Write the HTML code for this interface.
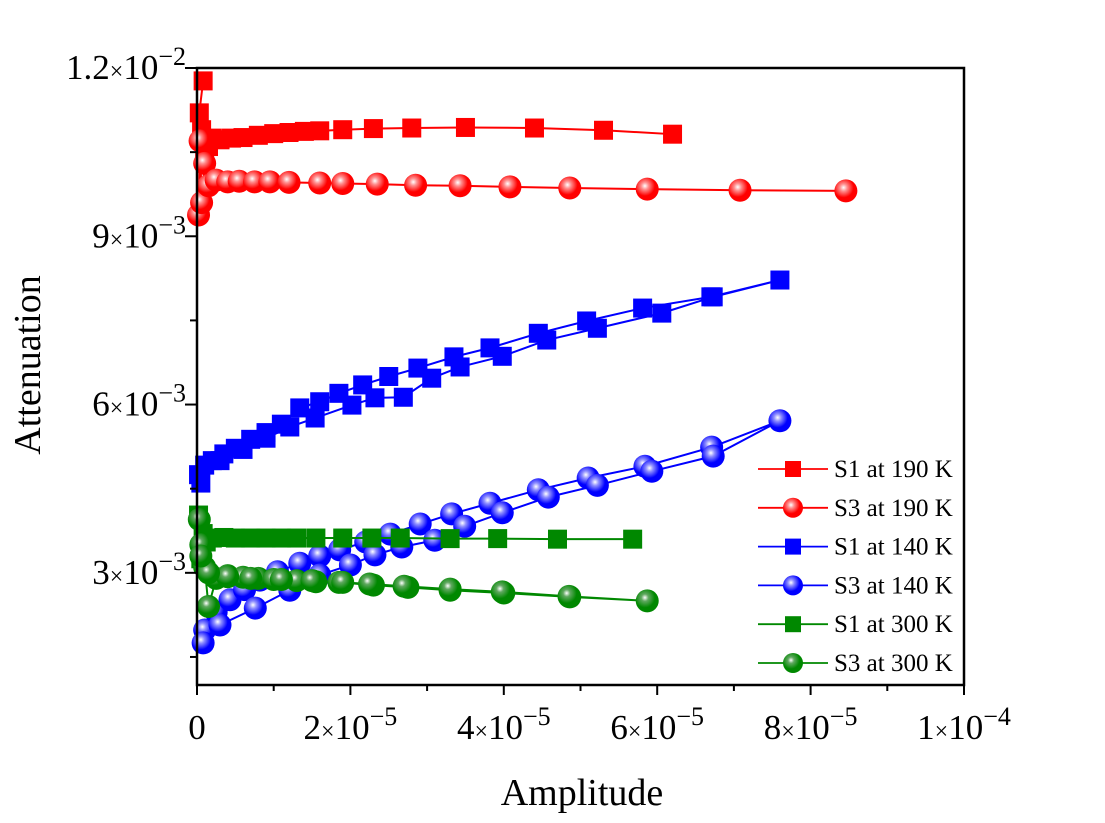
<!DOCTYPE html>
<html><head><meta charset="utf-8"><style>
html,body{margin:0;padding:0;background:#fff}
svg{display:block}
text{font-family:"Liberation Serif",serif;fill:#000}
</style></head><body>
<svg id="chart" width="1105" height="823" xmlns="http://www.w3.org/2000/svg">
<defs>
<radialGradient id="gr" cx="0.4" cy="0.36" r="0.62"><stop offset="0" stop-color="#fff"/><stop offset="0.25" stop-color="#ff9090"/><stop offset="0.7" stop-color="#f00"/></radialGradient>
<radialGradient id="gb" cx="0.4" cy="0.36" r="0.62"><stop offset="0" stop-color="#fff"/><stop offset="0.25" stop-color="#9090ff"/><stop offset="0.7" stop-color="#00f"/></radialGradient>
<radialGradient id="gg" cx="0.4" cy="0.36" r="0.62"><stop offset="0" stop-color="#fff"/><stop offset="0.25" stop-color="#60a860"/><stop offset="0.7" stop-color="#080"/></radialGradient>
</defs>
<g id="marks"></g>
<g id="axes"></g>
<g id="legend"></g>
</svg>
<script>
// amplitude in units of 1e-5, attenuation in units of 1e-3
const s1_190_x=[0.08,0.03,0.06,0.1,0.15,0.2,0.3,0.45,0.6,0.8,1.0,1.2,1.4,1.6,1.9,2.3,2.8,3.5,4.4,5.3,6.2];
const s1_190_y=[11.77,11.2,10.9,10.4,10.6,10.75,10.72,10.75,10.76,10.8,10.83,10.85,10.87,10.88,10.9,10.92,10.93,10.94,10.93,10.89,10.82];
const s3_190_x=[0.02,0.04,0.06,0.1,0.15,0.25,0.4,0.55,0.75,0.95,1.2,1.6,1.9,2.35,2.85,3.43,4.08,4.86,5.87,7.08,8.46];
const s3_190_y=[9.38,10.7,9.6,10.3,9.9,10.0,9.97,9.98,9.97,9.97,9.96,9.95,9.94,9.93,9.91,9.90,9.88,9.86,9.84,9.82,9.81];
const s1_140_x=[0.02,0.1,0.2,0.35,0.5,0.7,0.9,1.1,1.34,1.6,1.85,2.16,2.5,2.88,3.35,3.82,4.45,5.08,5.81,6.7,7.6,6.73,6.06,5.22,4.56,3.98,3.43,3.06,2.69,2.32,2.02,1.54,1.21,0.9,0.6,0.3,0.05];
const s1_140_y=[4.75,4.92,5.0,5.12,5.22,5.38,5.5,5.65,5.94,6.05,6.2,6.35,6.5,6.65,6.85,7.01,7.27,7.49,7.72,7.92,8.22,7.92,7.63,7.36,7.15,6.86,6.67,6.47,6.13,6.12,5.99,5.76,5.6,5.4,5.2,5.0,4.6];
const s3_140_x=[0.1,0.25,0.43,0.62,0.82,1.05,1.34,1.6,1.86,2.2,2.52,2.91,3.32,3.82,4.45,5.1,5.84,6.71,7.6,6.73,5.93,5.22,4.58,3.98,3.49,3.1,2.67,2.32,2.0,1.6,1.21,0.76,0.3,0.08];
const s3_140_y=[1.98,2.3,2.52,2.7,2.87,3.02,3.17,3.3,3.41,3.55,3.69,3.87,4.05,4.24,4.48,4.69,4.9,5.24,5.71,5.08,4.81,4.56,4.35,4.07,3.83,3.58,3.46,3.32,3.14,2.96,2.69,2.37,2.07,1.75];
const s1_300_x=[0.02,0.05,0.08,0.12,0.2,0.35,0.5,0.7,0.9,1.1,1.3,1.55,1.9,2.28,2.65,3.3,3.92,4.7,5.68];
const s1_300_y=[4.03,3.25,3.7,3.55,3.62,3.63,3.62,3.62,3.62,3.62,3.62,3.62,3.62,3.62,3.62,3.61,3.61,3.6,3.6];
const s3_300_x=[0.03,0.05,0.1,0.15,0.25,0.4,0.6,0.8,1.0,1.3,1.55,1.85,2.3,2.75,3.3,4.0,4.86,5.87,4.85,3.98,3.3,2.7,2.25,1.9,1.5,1.1,0.7,0.4,0.15,0.05];
const s3_300_y=[3.95,3.5,3.1,2.4,2.9,2.95,2.92,2.9,2.88,2.86,2.84,2.83,2.78,2.74,2.69,2.64,2.57,2.5,2.58,2.66,2.71,2.76,2.8,2.83,2.86,2.88,2.9,2.93,3.0,3.3];
const xTicks=[0,2,4,6,8,10];
const xTickMant=["0","2","4","6","8","1"];
const xTickExp=["","−5","−5","−5","−5","−4"];
const yTicks=[3,6,9,12];
const yTickMant=["3","6","9","1.2"];
const yTickExp=["−3","−3","−3","−2"];
const seriesNames=["S1 at 190 K","S3 at 190 K","S1 at 140 K","S3 at 140 K","S1 at 300 K","S3 at 300 K"];

const NS="http://www.w3.org/2000/svg";
const X0=197,X1=964,Y0=685,Y1=68;
const xS=v=>X0+(v/10)*(X1-X0);
const yS=v=>Y0-((v-1)/11)*(Y0-Y1);
function el(tag,attrs,parent){const e=document.createElementNS(NS,tag);for(const k in attrs)e.setAttribute(k,attrs[k]);parent.appendChild(e);return e;}
const marks=document.getElementById('marks');
const series=[
 {xs:s1_190_x,ys:s1_190_y,c:"#f00",g:"url(#gr)",sq:true,n:"s1-190k"},
 {xs:s3_190_x,ys:s3_190_y,c:"#f00",g:"url(#gr)",sq:false,n:"s3-190k"},
 {xs:s1_140_x,ys:s1_140_y,c:"#00f",g:"url(#gb)",sq:true,n:"s1-140k"},
 {xs:s3_140_x,ys:s3_140_y,c:"#00f",g:"url(#gb)",sq:false,n:"s3-140k"},
 {xs:s1_300_x,ys:s1_300_y,c:"#080",g:"url(#gg)",sq:true,n:"s1-300k"},
 {xs:s3_300_x,ys:s3_300_y,c:"#080",g:"url(#gg)",sq:false,n:"s3-300k"}];
function marker(p,s,cx,cy,size){
 if(s.sq)return el('rect',{x:cx-size/2,y:cy-size/2,width:size,height:size,fill:s.c},p);
 return el('circle',{cx:cx,cy:cy,r:size/2+2,fill:s.g},p);
}
series.forEach(s=>{
 const g=el('g',{},marks);
 
 
 const pts=s.xs.map((x,i)=>xS(x)+','+yS(s.ys[i])).join(' ');
 const ln=el('polyline',{points:pts,fill:'none',stroke:s.c,'stroke-width':2},g);
 
 
 s.xs.forEach((x,i)=>{
  const m=marker(g,s,xS(x),yS(s.ys[i]),19);
  
  
 });
});
const ax=document.getElementById('axes');
const fr=el('rect',{x:X0,y:Y1,width:X1-X0,height:Y0-Y1,fill:'none',stroke:'#000','stroke-width':2.5},ax);


for(let v=0;v<=10;v+=1){const maj=v%2===0;el('line',{x1:xS(v),y1:Y0,x2:xS(v),y2:Y0+(maj?10:6),stroke:'#000','stroke-width':2},ax);}
for(let v=1.5;v<=12;v+=1.5){const maj=Math.abs(v%3)<0.01;el('line',{x1:X0,y1:yS(v),x2:X0-(maj?12:7),y2:yS(v),stroke:'#000','stroke-width':2},ax);}
function sci(t,m,e){
 t.textContent=m;
 if(!e)return;
 const a=el('tspan',{'font-size':24},t);a.textContent='×';
 const b=el('tspan',{},t);b.textContent='10';
 const c=el('tspan',{'font-size':26,dy:-14},t);c.textContent=e;
}
xTicks.forEach((v,i)=>{
 const t=el('text',{x:xS(v),y:739,'font-size':35,'text-anchor':'middle'},ax);
 
 
 sci(t,xTickMant[i],xTickExp[i]);
});
yTicks.forEach((v,i)=>{
 const t=el('text',{x:186,y:yS(v)+11,'font-size':35,'text-anchor':'end'},ax);
 
 
 sci(t,yTickMant[i],yTickExp[i]);
});
const xt=el('text',{x:582,y:805,'font-size':38,'text-anchor':'middle'},ax);


xt.textContent='Amplitude';
const yt=el('text',{x:0,y:0,'font-size':38,'text-anchor':'middle',transform:'translate(40,365) rotate(-90)'},ax);


yt.textContent='Attenuation';
const lg=document.getElementById('legend');


series.forEach((s,i)=>{
 const y=469+i*38.8;
 const g=el('g',{},lg);
 
 
 el('line',{x1:758,y1:y,x2:828,y2:y,stroke:s.c,'stroke-width':1.8},g);
 marker(g,s,793,y,16);
 const t=el('text',{x:834,y:y+8,'font-size':25},g);
 t.textContent=seriesNames[i];
});
</script>
</body></html>
